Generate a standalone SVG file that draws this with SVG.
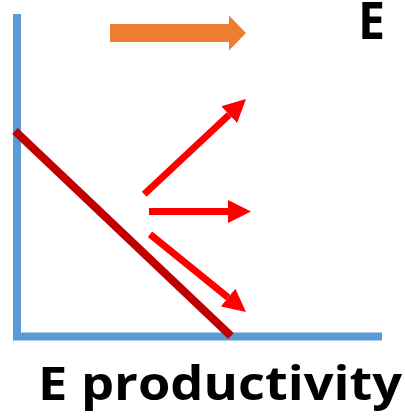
<svg xmlns="http://www.w3.org/2000/svg" width="405" height="416" viewBox="0 0 405 416">
<style>
.axis{stroke:#5B9BD5;stroke-width:8;fill:none}
.curve{stroke:#C00000;stroke-width:8;fill:none}
.red{stroke:#FF0000;stroke-width:7;fill:none}
.lbl{font-family:"Open Sans","Liberation Sans",Arial,sans-serif;font-weight:bold;fill:#000}
</style>
<defs>
<marker id="rh" markerUnits="userSpaceOnUse" markerWidth="23" markerHeight="23" viewBox="0 0 23 23" refX="0" refY="11.5" orient="auto">
<path d="M0,0 L23,11.5 L0,23 Z" fill="#FF0000"/>
</marker>
<marker id="oh" markerUnits="userSpaceOnUse" markerWidth="17" markerHeight="35" viewBox="0 0 17 35" refX="0" refY="17.5" orient="auto">
<path d="M0,0 L17,17.5 L0,35 Z" fill="#ED7D31"/>
</marker>
</defs>
<g id="axes">
<line class="axis" x1="17" y1="14" x2="17" y2="337"/>
<line class="axis" x1="13" y1="336.5" x2="382" y2="336.5"/>
</g>
<g id="curve">
<line class="curve" x1="15" y1="131" x2="231" y2="336"/>
</g>
<g id="connectors">
<line x1="110" y1="33" x2="229" y2="33" stroke="#ED7D31" stroke-width="18" marker-end="url(#oh)"/>
<line class="red" x1="144.2" y1="194.2" x2="229.2" y2="114.7" marker-end="url(#rh)"/>
<line class="red" x1="149" y1="211.5" x2="228" y2="211.5" marker-end="url(#rh)"/>
<line class="red" x1="150" y1="234.3" x2="228.1" y2="297.5" marker-end="url(#rh)"/>
</g>
<g id="label-E">
<text class="lbl" font-size="42" transform="translate(358,39) scale(1.15,1.22)">E</text>
</g>
<g id="label-x">
<text class="lbl" x="38" y="400" font-size="46" textLength="364" lengthAdjust="spacingAndGlyphs">E productivity</text>
</g>
</svg>
